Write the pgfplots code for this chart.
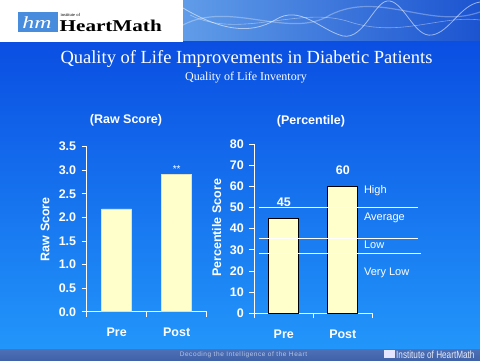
\documentclass[border=0pt]{standalone}
\usepackage{fontspec}
\setmainfont{Liberation Sans}
\newfontfamily\serif{Liberation Serif}
\usepackage{pgfplots}
\pgfplotsset{compat=1.18}
\definecolor{barfill}{RGB}{255,255,204}
\definecolor{bgtop}{RGB}{10,78,226}
\definecolor{bgbot}{RGB}{34,150,250}
\definecolor{foot}{RGB}{64,98,168}
\definecolor{logoblue}{RGB}{72,140,222}
\newcommand{\bfz}[1]{\fontsize{#1}{#1}\selectfont\bfseries}
\pgfplotsset{
 myax/.style={
  scale only axis, anchor=south west, clip=false,
  axis x line*=bottom, axis y line*=left,
  axis line style={white, line width=0.8pt, -},
  tick style={white, line width=0.8pt},
  tick align=outside,
  major tick length=5pt, minor tick length=5pt,
  xmin=0.5, xmax=2.5, xtick={1,2}, xticklabels={Pre,Post},
  minor xtick={0.5,1.5,2.5},
  major x tick style={draw=none},
  tick label style={white, font=\bfz{12.5}},
  xticklabel style={yshift=-8pt},
  yticklabel style={xshift=-2pt},
  label style={white, font=\bfz{12.5}},
  /pgf/number format/assume math mode=true,
 }
}
\begin{document}
\begin{tikzpicture}[x=1pt,y=1pt]
\useasboundingbox (0,0) rectangle (480,360);
% background
\shade[top color=bgtop, bottom color=bgbot] (0,10) rectangle (480,321);
% footer
\shade[top color={rgb,255:red,78;green,112;blue,182}, bottom color=foot] (0,0) rectangle (480,11);
\node[anchor=base, text={rgb,255:red,180;green,198;blue,232}, font=\fontsize{6.5}{6.5}\selectfont\addfontfeatures{LetterSpace=9}] at (243.5,3.5) {Decoding the Intelligence of the Heart};
\fill[white!90!blue] (384,2.5) rectangle (395,10);
\node[anchor=base west, inner sep=0pt, text={rgb,255:red,230;green,236;blue,250}, font=\fontsize{10.5}{10.5}\selectfont] at (396,2) {\scalebox{0.78}[1]{Institute of HeartMath}};
% header
\fill[white] (0,318) rectangle (183,360);
\shade[left color={rgb,255:red,96;green,156;blue,232}, right color={rgb,255:red,28;green,84;blue,208}] (183,320) rectangle (480,360);
\begin{scope}
\clip (183,320) rectangle (480,360);
\draw[white, opacity=0.55, line width=0.8pt] (183,352) .. controls (220,330) and (250,325) .. (275,340) .. controls (300,356) and (320,330) .. (343,324) .. controls (365,320) and (375,362) .. (390,359) .. controls (405,356) and (415,322) .. (432,325) .. controls (450,328) and (460,355) .. (480,358);
\draw[white, opacity=0.4, line width=0.6pt] (190,345) .. controls (240,320) and (300,355) .. (350,338) .. controls (400,322) and (440,345) .. (480,340);
\draw[white, opacity=0.3, line width=1.2pt] (183,335) .. controls (230,360) and (290,320) .. (330,345) .. controls (380,370) and (430,330) .. (480,348);
\end{scope}
\fill[logoblue] (18,328) rectangle (58,348);
\node[white, font=\serif\itshape\fontsize{17}{17}\selectfont, inner sep=0pt] at (37,337) {\scalebox{1.4}[1]{hm}};
\node[anchor=base west, inner sep=0pt, font=\serif\fontsize{4.5}{4.5}\selectfont] at (60.5,344) {institute of};
\node[anchor=base west, inner sep=0pt, font=\serif\bfseries\fontsize{16.5}{16.5}\selectfont] at (59.5,329) {\scalebox{1.28}[1]{HeartMath}};
% titles
\node[anchor=base, white, font=\serif\fontsize{18.5}{18.5}\selectfont] at (246.5,296.7) {Quality of Life Improvements in Diabetic Patients};
\node[anchor=base, white, font=\serif\fontsize{12}{12}\selectfont] at (246,280) {Quality of Life Inventory};
\node[white, font=\bfz{12.5}] at (126,240) {(Raw Score)};
\node[white, font=\bfz{12.5}] at (311,239) {(Percentile)};
% left chart
\begin{axis}[myax, at={(86.7pt,48.3pt)}, width=120pt, height=165pt,
  ymin=0, ymax=3.5, ytick={0,0.5,...,3.5},
  /pgf/number format/fixed, /pgf/number format/fixed zerofill, /pgf/number format/precision=1,
  ylabel={Raw Score},
  ylabel style={at={(axis description cs:-0.3475,0.5)}, anchor=center}]
\addplot[ybar, bar width=30pt, fill=barfill, draw={rgb,255:red,225;green,225;blue,190}, line width=0.6pt] coordinates {(1,2.18) (2,2.91)};
\node[anchor=base, white, font=\fontsize{10}{10}\selectfont] at (axis cs:2,2.96) {**};
\end{axis}
% right chart
\begin{axis}[myax, at={(254.3pt,46.7pt)}, width=118pt, height=169.3pt,
  ymin=0, ymax=80, ytick={0,10,...,80},
  ylabel={Percentile Score},
  ylabel style={at={(axis description cs:-0.319,0.504)}, anchor=center}]
\addplot[ybar, bar width=30pt, fill=barfill, draw=black, line width=0.7pt,
  nodes near coords, every node near coord/.append style={white, font=\bfz{12.5}, yshift=8pt}] coordinates {(1,45) (2,60)};
\addplot[white, line width=0.8pt] coordinates {(0.58,50) (3.27,50)};
\addplot[white, line width=0.8pt] coordinates {(0.58,35.4) (3.27,35.4)};
\addplot[white, line width=0.8pt] coordinates {(0.58,28.3) (3.33,28.3)};
\node[anchor=west, white, font=\fontsize{11}{11}\selectfont] at (axis cs:2.3,58) {High};
\node[anchor=west, white, font=\fontsize{11}{11}\selectfont] at (axis cs:2.3,45) {Average};
\node[anchor=west, white, font=\fontsize{11}{11}\selectfont] at (axis cs:2.3,32.4) {Low};
\node[anchor=west, white, font=\fontsize{11}{11}\selectfont] at (axis cs:2.3,19.2) {Very Low};
\end{axis}
\end{tikzpicture}
\end{document}
